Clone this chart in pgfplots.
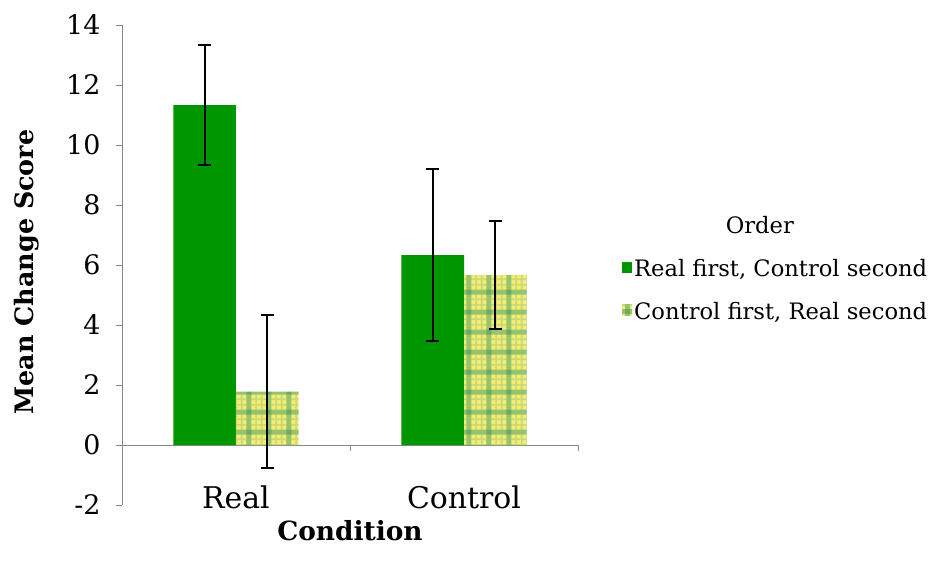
\documentclass[border=0pt]{standalone}
\usepackage{fontspec}
\setmainfont{DejaVu Serif}
\usepackage{pgfplots}
\pgfplotsset{compat=1.18}
\usetikzlibrary{patterns.meta}
\definecolor{bargreen}{RGB}{0,150,0}
\definecolor{plaidyellow}{RGB}{246,236,112}
\definecolor{plaidlight}{RGB}{200,218,120}
\definecolor{plaidgreen}{RGB}{150,196,108}
\definecolor{plaiddark}{RGB}{112,170,98}
\definecolor{axisgray}{RGB}{135,135,135}
\tikzdeclarepattern{
  name=plaid,
  type=colored,
  bottom left={(0pt,0pt)},
  top right={(20pt,20pt)},
  tile size={(20pt,20pt)},
  code={
    \fill[plaidyellow] (0pt,0pt) rectangle (20pt,20pt);
    \fill[plaidlight] (2pt,0pt) rectangle (3.6pt,20pt);
    \fill[plaidlight] (0pt,2pt) rectangle (20pt,3.6pt);
    \fill[plaidlight] (16.4pt,0pt) rectangle (18pt,20pt);
    \fill[plaidlight] (0pt,16.4pt) rectangle (20pt,18pt);
    \fill[plaidgreen] (7.5pt,0pt) rectangle (12.5pt,20pt);
    \fill[plaidgreen] (0pt,7.5pt) rectangle (20pt,12.5pt);
    \fill[plaiddark] (7.5pt,7.5pt) rectangle (12.5pt,12.5pt);
  }
}
\begin{document}
\begin{tikzpicture}
\path[use as bounding box] (-122bp,-56bp) rectangle (813bp,505bp);
\begin{axis}[
  at={(0,0)}, anchor=south west,
  scale only axis,
  width=456bp, height=480bp,
  xmin=-0.5, xmax=1.5,
  ymin=-2, ymax=14,
  ytick={-2,0,2,4,6,8,10,12,14},
  xtick={0,1},
  xticklabels={Real,Control},
  minor xtick={-0.5,0.5,1.5},
  axis x line=middle,
  axis y line=left,
  axis line style={-, draw=axisgray, line width=0.8pt},
  tick style={draw=axisgray, line width=0.8pt},
  major x tick style={draw=none},
  tick align=outside,
  major tick length=6bp,
  minor tick length=6bp,
  /pgf/number format/assume math mode=true,
  yticklabel style={font=\fontsize{27}{30}\selectfont, xshift=-12bp},
  xticklabel style={font=\fontsize{30}{34}\selectfont, anchor=base, yshift=-57bp},
  ylabel={\bfseries Mean Change Score},
  ylabel style={font=\fontsize{25.5}{30}\selectfont, at={(rel axis cs:0,0.5)}, anchor=center, yshift=95bp, xshift=-7bp},
  xlabel={\bfseries Condition},
  xlabel style={font=\fontsize{26.5}{30}\selectfont, at={(rel axis cs:0.5,0)}, anchor=base, yshift=-35bp},
  bar width=0.275,
  legend cell align=left,
  legend style={at={(1.0965,0.605)}, anchor=north west, draw=none, fill=none, inner sep=0pt,
    font=\fontsize{22.7}{27}\selectfont, row sep=20bp,
    /tikz/every even column/.append style={column sep=0bp}},
  legend image code/.code={\fill[#1] (0bp,-4bp) rectangle (10bp,7bp);},
]
\addlegendimage{empty legend}
% Real first, Control second (bars at category position - 0.1375)
\addplot[ybar, bar shift=0, fill=bargreen, draw=none,
  error bars/.cd, y dir=both, y explicit,
  error bar style={black, line width=2pt},
  error mark options={black, rotate=90, mark size=6.5bp, line width=2pt}]
  coordinates {(-0.1375,11.33) +- (0,2.0) (0.8625,6.33) +- (0,2.87)};
% Control first, Real second (bars at category position + 0.1375)
\addplot[ybar, bar shift=0, pattern=plaid, draw=none,
  error bars/.cd, y dir=both, y explicit,
  error bar style={black, line width=2pt},
  error mark options={black, rotate=90, mark size=6.5bp, line width=2pt}]
  coordinates {(0.1375,1.78) +- (0,2.55) (1.1375,5.67) +- (0,1.8)};
\legend{\hspace{4.05em}Order, {Real first, Control second}, {Control first, Real second}}
\end{axis}
\end{tikzpicture}
\end{document}
